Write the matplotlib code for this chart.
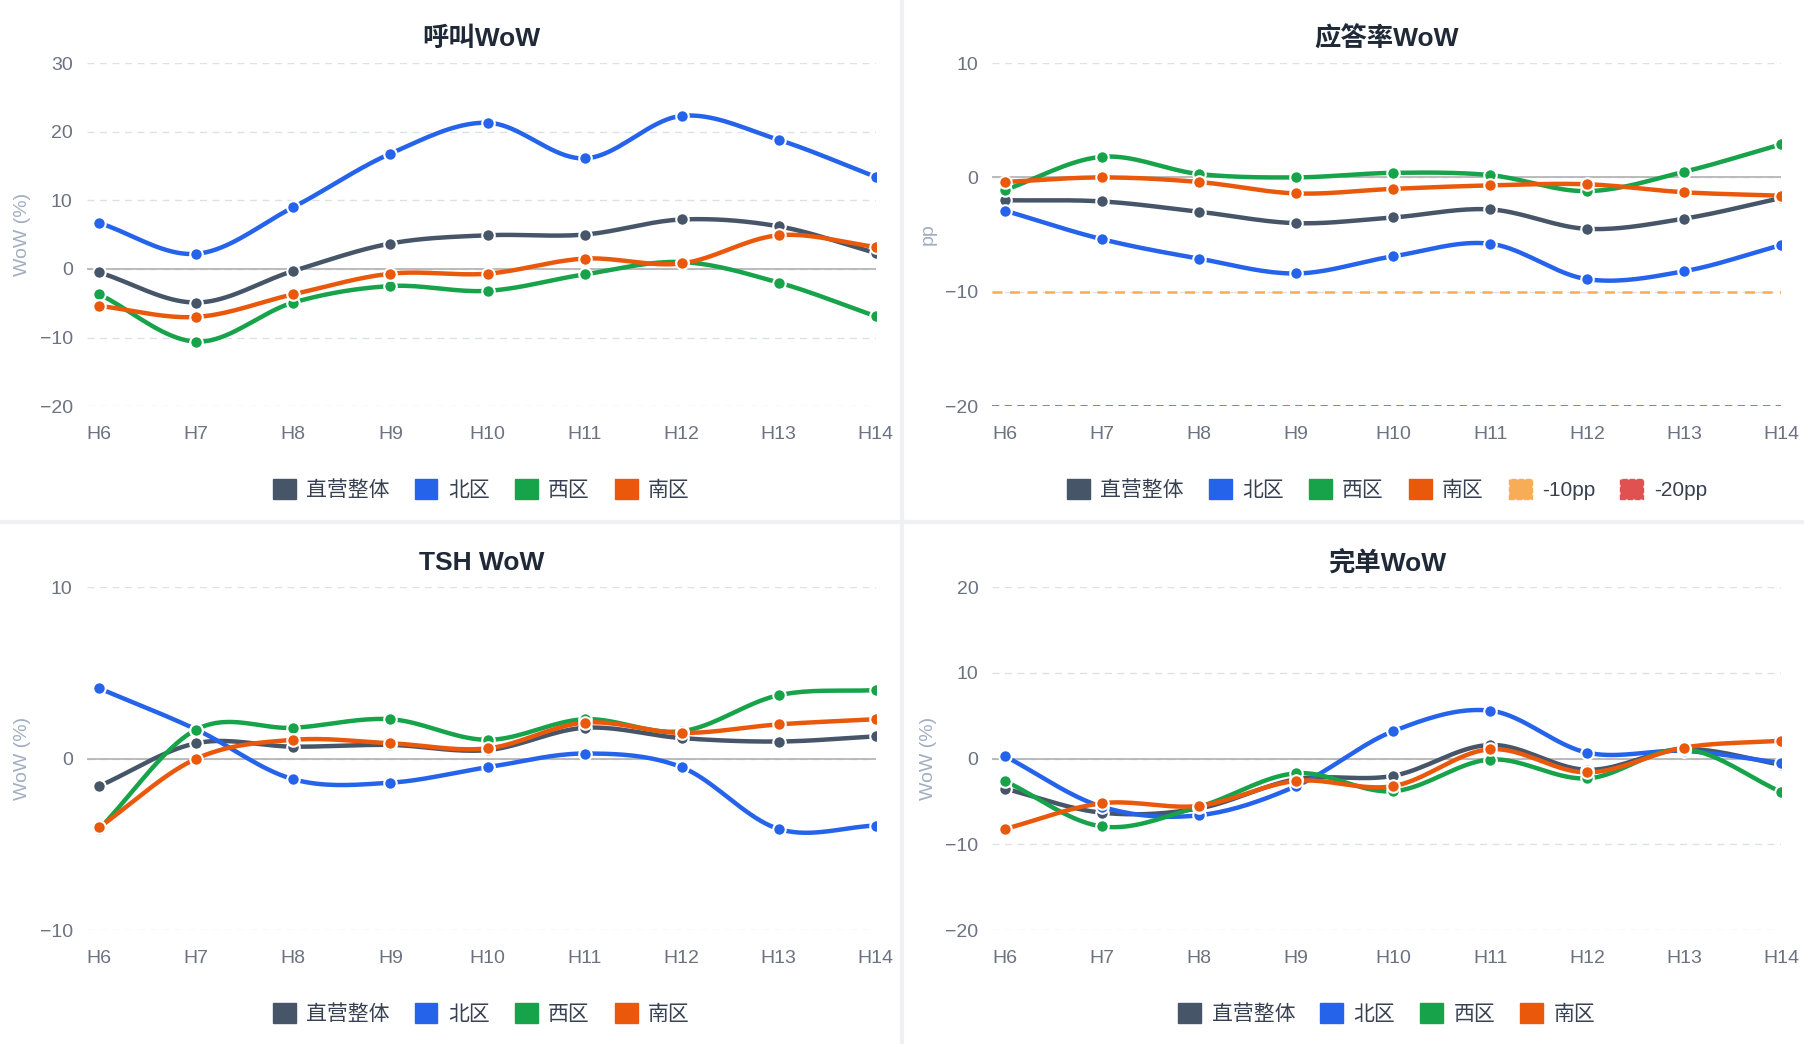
import numpy as np
import matplotlib
matplotlib.use("Agg")
import matplotlib.pyplot as plt
from matplotlib.patches import Patch

plt.rcParams["font.family"] = ["Liberation Sans", "Noto Sans CJK SC", "DejaVu Sans"]

HOURS = ["H6", "H7", "H8", "H9", "H10", "H11", "H12", "H13", "H14"]
SERIES_NAMES = ["直营整体", "北区", "西区", "南区"]
COLORS = ["#475569", "#2563eb", "#16a34a", "#ea580c"]

CALL_TOTAL = [-0.5, -4.9, -0.3, 3.7, 4.9, 5.0, 7.2, 6.2, 2.3]
CALL_NORTH = [6.7, 2.2, 9.0, 16.8, 21.3, 16.1, 22.3, 18.8, 13.4]
CALL_WEST = [-3.7, -10.6, -4.9, -2.5, -3.2, -0.8, 1.0, -2.0, -6.9]
CALL_SOUTH = [-5.4, -7.0, -3.7, -0.7, -0.7, 1.5, 0.8, 4.9, 3.2]

ANS_TOTAL = [-2.0, -2.1, -3.0, -4.0, -3.5, -2.8, -4.5, -3.6, -1.8]
ANS_NORTH = [-2.9, -5.4, -7.1, -8.4, -6.9, -5.8, -8.9, -8.2, -5.9]
ANS_WEST = [-1.1, 1.8, 0.3, 0.0, 0.4, 0.2, -1.2, 0.5, 2.9]
ANS_SOUTH = [-0.4, 0.0, -0.4, -1.4, -1.0, -0.7, -0.6, -1.3, -1.6]

TSH_TOTAL = [-1.6, 0.9, 0.7, 0.8, 0.5, 1.8, 1.2, 1.0, 1.3]
TSH_NORTH = [4.1, 1.7, -1.2, -1.4, -0.5, 0.3, -0.5, -4.1, -3.9]
TSH_WEST = [-4.1, 1.7, 1.8, 2.3, 1.1, 2.3, 1.6, 3.7, 4.0]
TSH_SOUTH = [-4.0, 0.0, 1.1, 0.9, 0.6, 2.1, 1.5, 2.0, 2.3]

DONE_TOTAL = [-3.5, -6.3, -5.8, -2.4, -2.0, 1.6, -1.3, 1.1, -0.7]
DONE_NORTH = [0.3, -5.6, -6.6, -3.2, 3.2, 5.6, 0.7, 0.9, -0.5]
DONE_WEST = [-2.6, -7.9, -5.6, -1.7, -3.8, -0.1, -2.3, 1.1, -3.9]
DONE_SOUTH = [-8.2, -5.2, -5.5, -2.6, -3.2, 1.1, -1.6, 1.3, 2.1]

ANS_THRESHOLDS = [-10, -20]
THRESH_LABELS = ["-10pp", "-20pp"]
THRESH_COLORS = ["#f6ad55", "#e05252"]


def smooth(y, n=20):
    # Catmull-Rom through the data points (only for drawing the curve)
    y = np.asarray(y, float)
    p = np.concatenate([[2 * y[0] - y[1]], y, [2 * y[-1] - y[-2]]])
    xs, ys = [], []
    for i in range(len(y) - 1):
        t = np.linspace(0, 1, n, endpoint=False)
        p0, p1, p2, p3 = p[i], p[i + 1], p[i + 2], p[i + 3]
        v = 0.5 * ((2 * p1) + (-p0 + p2) * t + (2 * p0 - 5 * p1 + 4 * p2 - p3) * t ** 2
                   + (-p0 + 3 * p1 - 3 * p2 + p3) * t ** 3)
        xs.append(i + t)
        ys.append(v)
    xs.append([len(y) - 1])
    ys.append([y[-1]])
    return np.concatenate(xs), np.concatenate(ys)


def draw_panel(fig, rect, title, data, ylim, yticks, ylabel, thresholds=False):
    ax = fig.add_axes(rect)
    x = np.arange(len(HOURS))
    for vals, color in zip(data, COLORS):
        sx, sy = smooth(vals)
        ax.plot(sx, sy, color=color, lw=3.2, zorder=3, solid_capstyle="round")
        ax.plot(x, vals, "o", color=color, ms=9, mec="white", mew=1.5, zorder=4)
    handles = [Patch(color=c, label=n) for c, n in zip(COLORS, SERIES_NAMES)]
    if thresholds:
        for val, c, lab in zip(ANS_THRESHOLDS, THRESH_COLORS, THRESH_LABELS):
            ax.axhline(val, color=c, lw=1.8 if val == -10 else 1.3, ls=(0, (4, 3)), zorder=2)
            handles.append(Patch(facecolor=c, edgecolor=c, ls="--", label=lab))
    ax.axhline(0, color="#b0b0b0", lw=1.2, zorder=1)
    ax.set_xlim(-0.13, 8)
    ax.set_ylim(*ylim)
    ax.set_yticks(yticks)
    ax.set_xticks(x)
    ax.set_xticklabels(HOURS)
    ax.grid(True, axis="y", color="#dde1e6", ls=(0, (5, 4)), lw=1)
    ax.set_axisbelow(True)
    for s in ax.spines.values():
        s.set_visible(False)
    ax.tick_params(length=0, labelsize=14, colors="#6b7280", pad=10)
    ax.tick_params(axis="x", pad=14)
    ax.set_ylabel(ylabel, color="#a0aec0", fontsize=14, labelpad=6)
    ax.set_title(title, fontsize=19, fontweight="bold", color="#1f2937", pad=12)
    cx = rect[0] + rect[2] / 2
    fig.legend(handles=handles, loc="center", bbox_to_anchor=(cx, rect[1] - 0.08),
               ncol=len(handles), frameon=False, fontsize=15, handlelength=1.1,
               handleheight=1.1, columnspacing=1.2, handletextpad=0.5, labelcolor="#374151")
    return ax


fig = plt.figure(figsize=(18.04, 10.44), dpi=100)
fig.patch.set_facecolor("white")
w, h = 0.4375, 0.3286
draw_panel(fig, [0.048, 0.611, w, h], "呼叫WoW", [CALL_TOTAL, CALL_NORTH, CALL_WEST, CALL_SOUTH],
           (-20, 30), [-20, -10, 0, 10, 20, 30], "WoW (%)")
draw_panel(fig, [0.550, 0.611, w, h], "应答率WoW", [ANS_TOTAL, ANS_NORTH, ANS_WEST, ANS_SOUTH],
           (-20, 10), [-20, -10, 0, 10], "pp", thresholds=True)
draw_panel(fig, [0.048, 0.109, w, h], "TSH WoW", [TSH_TOTAL, TSH_NORTH, TSH_WEST, TSH_SOUTH],
           (-10, 10), [-10, 0, 10], "WoW (%)")
draw_panel(fig, [0.550, 0.109, w, h], "完单WoW", [DONE_TOTAL, DONE_NORTH, DONE_WEST, DONE_SOUTH],
           (-20, 20), [-20, -10, 0, 10, 20], "WoW (%)")

fig.add_artist(plt.Line2D([0.5, 0.5], [0, 1], color="#eef0f3", lw=3))
fig.add_artist(plt.Line2D([0, 1], [0.5, 0.5], color="#eef0f3", lw=3))

fig.savefig("out.png", dpi=100)
